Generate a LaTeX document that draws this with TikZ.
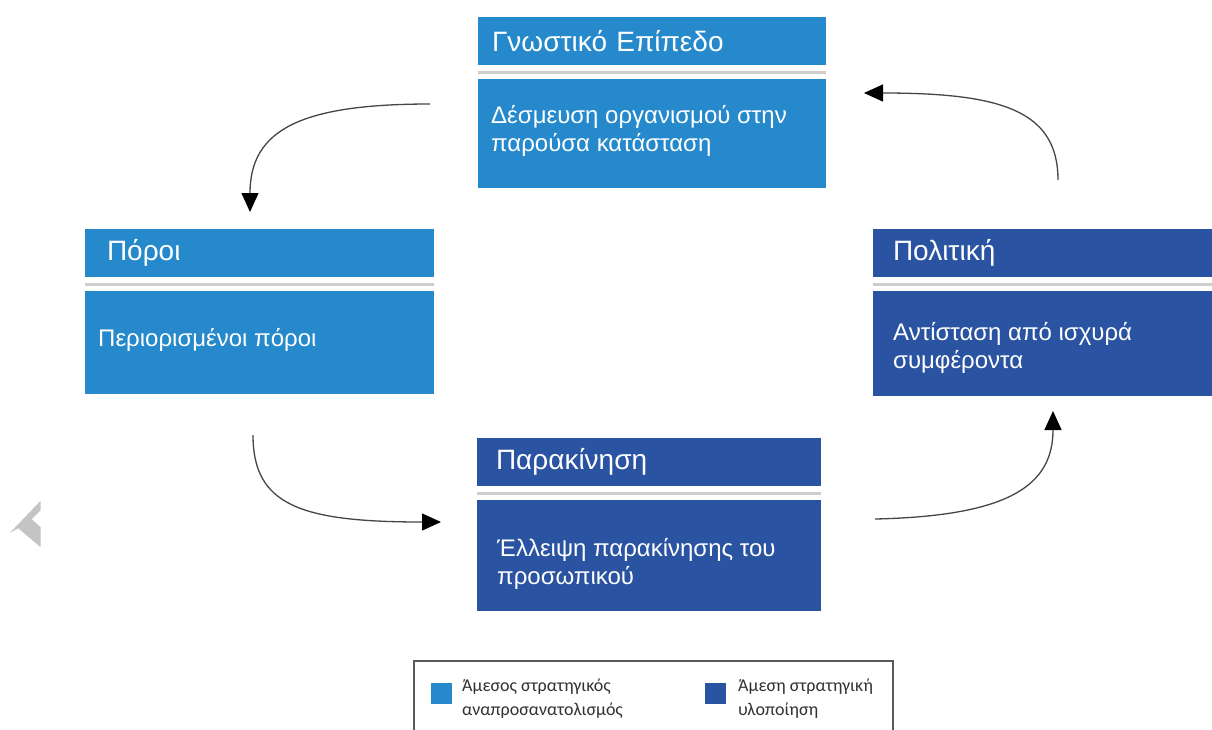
\documentclass[tikz,border=0pt]{standalone}
\usepackage{fontspec}
\setmainfont{Liberation Sans}
\newfontfamily\legfont{Carlito}
\usetikzlibrary{arrows.meta}
\definecolor{lb}{RGB}{37,137,204}
\definecolor{db}{RGB}{42,84,161}
\definecolor{sepgray}{RGB}{205,205,205}
\definecolor{chev}{RGB}{196,196,196}
\definecolor{conncol}{RGB}{70,70,70}
\definecolor{legtext}{RGB}{50,50,50}
\definecolor{legframe}{RGB}{90,90,90}
\tikzset{
  hdr/.style={anchor=north west, minimum height=48pt, inner sep=0pt, outer sep=0pt,
    text=white, align=left, font=\fontsize{28}{32}\selectfont},
  bodybox/.style={anchor=north west, inner sep=0pt, outer sep=0pt},
  bodytxt/.style={anchor=base west, inner sep=0pt, text=white, align=left,
    font=\fontsize{24}{28}\selectfont},
  sepline/.style={draw=sepgray, line width=3pt},
  conn/.style={draw=conncol, line width=1.3pt, -{Triangle[length=19pt,width=17pt,color=black]}},
  legsq/.style={minimum size=21pt, inner sep=0pt, anchor=north west},
  legtxt/.style={anchor=north west, inner sep=0pt, align=left, text=legtext,
    font=\legfont\fontsize{18}{24}\selectfont}
}
\begin{document}
\begin{tikzpicture}[x=1pt,y=-1pt]
\useasboundingbox (0,0) rectangle (1212,729);
\clip (0,0) rectangle (1212,729);
\fill[white] (0,0) rectangle (1212,729);

% top box
\node[hdr, fill=lb, minimum width=348pt, text width=348pt] (h1) at (478,17) {\hspace*{14pt}Γνωστικό Επίπεδο};
\node[bodybox, fill=lb, minimum width=348pt, minimum height=109pt] (b1) at (478,79) {};
\node[bodytxt] (t1) at (491,151) {Δέσμευση οργανισμού στην\\παρούσα κατάσταση};
\draw[sepline] ([yshift=-7pt]h1.south west) -- ([yshift=-7pt]h1.south east);

% left box
\node[hdr, fill=lb, minimum width=349pt, text width=349pt] (h2) at (85,229) {\hspace*{22pt}Πόροι};
\node[bodybox, fill=lb, minimum width=349pt, minimum height=103pt] (b2) at (85,291) {};
\node[bodytxt] (t2) at (98,346) {Περιορισμένοι πόροι};
\draw[sepline] ([yshift=-7pt]h2.south west) -- ([yshift=-7pt]h2.south east);

% right box
\node[hdr, fill=db, minimum width=345pt, text width=345pt] (h3) at (873,229) {\hspace*{20pt}Πολιτική};
\node[bodybox, fill=db, minimum width=345pt, minimum height=105pt] (b3) at (873,291) {};
\node[bodytxt] (t3) at (893,368) {Αντίσταση από ισχυρά\\συμφέροντα};
\draw[sepline] ([yshift=-7pt]h3.south west) -- ([yshift=-7pt]h3.south east);

% bottom box
\node[hdr, fill=db, minimum width=344pt, text width=344pt] (h4) at (477,438) {\hspace*{19pt}Παρακίνηση};
\node[bodybox, fill=db, minimum width=344pt, minimum height=111pt] (b4) at (477,500) {};
\node[bodytxt] (t4) at (497,584) {Έλλειψη παρακίνησης του\\προσωπικού};
\draw[sepline] ([yshift=-7pt]h4.south west) -- ([yshift=-7pt]h4.south east);

% connectors
\coordinate (a1s) at (430,104);
\coordinate (a1e) at (250,212);
\coordinate (a2s) at (253,435);
\coordinate (a2e) at (441,522);
\coordinate (a3s) at (875,519);
\coordinate (a3e) at (1053,411);
\coordinate (a4s) at (1058,180);
\coordinate (a4e) at (864,93);
\draw[conn] (a1s) .. controls (300,104) and (250,130) .. (a1e);
\draw[conn] (a2s) .. controls (253,505) and (300,522) .. (a2e);
\draw[conn] (a3s) .. controls (1010,516) and (1053,485) .. (a3e);
\draw[conn] (a4s) .. controls (1058,110) and (1000,93) .. (a4e);

% legend
\draw[legframe, line width=1.6pt] (414,661) rectangle (893,760);
\node[legsq, fill=lb] (s1) at (431,683) {};
\node[legsq, fill=db] (s2) at (705,683) {};
\node[legtxt] (l1) at (462,679) {Άμεσος στρατηγικός\\αναπροσανατολισμός};
\node[legtxt] (l2) at (738,679) {Άμεση στρατηγική\\υλοποίηση};

% grey chevron at left edge
\fill[chev] (40.7,500.7) -- (10,532.7) -- (18.3,528.3) -- (40.7,547.3) -- (40.7,527.3) -- (31.7,519.3) -- (40.7,510) -- cycle;
\end{tikzpicture}
\end{document}
